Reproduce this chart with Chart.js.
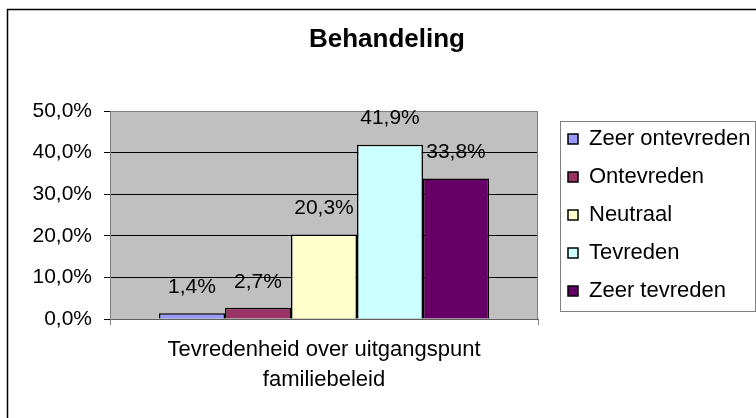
<!DOCTYPE html>
<html>
<head>
<meta charset="utf-8">
<script src="https://cdn.jsdelivr.net/npm/chart.js@4"></script>
<style>
  html, body { margin: 0; padding: 0; background: #fff; }
  #wrap { width: 756px; height: 418px; }
</style>
</head>
<body>
<div id="wrap"><canvas id="chart" width="756" height="418"></canvas></div>
<script>
// Data
const categories = [['Tevredenheid over uitgangspunt', 'familiebeleid']];
const seriesNames = ['Zeer ontevreden', 'Ontevreden', 'Neutraal', 'Tevreden', 'Zeer tevreden'];
const seriesValues = [1.4, 2.7, 20.3, 41.9, 33.8];
const seriesColors = ['#9999ff', '#993366', '#ffffcc', '#ccffff', '#660066'];
const yTicks = [0, 10, 20, 30, 40, 50];

const FONT = "'Liberation Sans', Arial, sans-serif";
Chart.defaults.font.family = FONT;
Chart.defaults.color = '#000';

function pct(v) {
    return v.toFixed(1).replace('.', ',') + '%';
}

// Outer frame, plot background and plot border
const framePlugin = {
    id: 'frame',
    beforeDraw(chart) {
        const { ctx, chartArea: a } = chart;
        ctx.save();
        ctx.fillStyle = '#fff';
        ctx.fillRect(0, 0, chart.width, chart.height);
        ctx.strokeStyle = '#000';
        ctx.lineWidth = 1.5;
        ctx.beginPath();
        ctx.moveTo(7.5, chart.height + 5);
        ctx.lineTo(7.5, 9.5);
        ctx.lineTo(chart.width + 5, 9.5);
        ctx.stroke();
        ctx.fillStyle = '#c0c0c0';
        ctx.fillRect(a.left, a.top, a.right - a.left, a.bottom - a.top);
        ctx.restore();
    },
    beforeDatasetsDraw(chart) {
        const { ctx, chartArea: a } = chart;
        ctx.save();
        ctx.strokeStyle = '#808080';
        ctx.lineWidth = 1;
        ctx.beginPath();
        ctx.moveTo(a.left, a.top + 0.5);
        ctx.lineTo(a.right - 0.5, a.top + 0.5);
        ctx.lineTo(a.right - 0.5, a.bottom);
        ctx.stroke();
        ctx.restore();
    },
    afterDraw(chart) {
        // legend frame
        const lg = chart.legend;
        if (!lg || !lg.legendHitBoxes.length) return;
        const boxes = lg.legendHitBoxes;
        const first = boxes[0], last = boxes[boxes.length - 1];
        const top = first.top + first.height / 2 - 18.5;
        const bottom = last.top + last.height / 2 + 19;
        const left = first.left - 8;
        const right = chart.width - 1;
        const { ctx } = chart;
        ctx.save();
        ctx.strokeStyle = '#808080';
        ctx.lineWidth = 1;
        ctx.strokeRect(Math.round(left) + 0.5, Math.round(top) + 0.5,
            Math.round(right - left), Math.round(bottom - top));
        ctx.restore();
    }
};

// Value labels above the bars
const valueLabels = {
    id: 'valueLabels',
    afterDatasetsDraw(chart) {
        const { ctx } = chart;
        ctx.save();
        ctx.font = '21px ' + FONT;
        ctx.fillStyle = '#000';
        ctx.textAlign = 'center';
        ctx.textBaseline = 'middle';
        chart.data.datasets.forEach((ds, i) => {
            const meta = chart.getDatasetMeta(i);
            meta.data.forEach((bar, j) => {
                ctx.fillText(pct(ds.data[j]), bar.x, bar.y - 26);
            });
        });
        ctx.restore();
    }
};

const datasets = seriesNames.map((name, i) => ({
    label: name,
    data: [seriesValues[i]],
    backgroundColor: seriesColors[i],
    borderColor: '#000',
    borderWidth: 1.5,
    categoryPercentage: 0.771,
    barPercentage: 1
}));

new Chart(document.getElementById('chart').getContext('2d'), {
    type: 'bar',
    data: { labels: categories, datasets },
    options: {
        responsive: false,
        animation: false,
        layout: { padding: { left: 18, right: 0, top: 0, bottom: 0 } },
        plugins: {
            title: {
                display: true,
                text: 'Behandeling',
                color: '#000',
                font: { size: 26, weight: 'bold', lineHeight: 1.2 },
                padding: { top: 24, bottom: 55.8 }
            },
            legend: {
                position: 'right',
                fullSize: false,
                maxWidth: 204,
                labels: {
                    color: '#000',
                    font: { size: 22 },
                    boxWidth: 10,
                    boxHeight: 10,
                    padding: 16
                }
            },
            tooltip: { enabled: false }
        },
        scales: {
            x: {
                offset: true,
                grid: {
                    offset: true,
                    drawOnChartArea: false,
                    tickLength: 6,
                    color: '#808080'
                },
                border: { color: '#606060', width: 1 },
                ticks: {
                    padding: 10,
                    font: { size: 22, lineHeight: 1.364 },
                    maxRotation: 0
                },
                afterFit(scale) { scale.height = 99; }
            },
            y: {
                min: 0,
                max: 50,
                afterBuildTicks(scale) {
                    scale.ticks = yTicks.map(v => ({ value: v }));
                },
                grid: {
                    color: ctx => (ctx.tick && (ctx.tick.value === 50 || ctx.tick.value === 0)) ? '#808080' : '#000',
                    tickColor: '#000',
                    tickLength: 6,
                    lineWidth: 1
                },
                border: { color: '#808080', width: 1 },
                ticks: {
                    padding: 12,
                    font: { size: 21 },
                    callback: v => pct(v)
                },
                afterFit(scale) { scale.width = 92; }
            },
            y2: {
                position: 'right',
                display: true,
                grid: { display: false },
                border: { display: false },
                ticks: { display: false },
                afterFit(scale) { scale.width = 14; }
            }
        }
    },
    plugins: [framePlugin, valueLabels]
});
</script>
</body>
</html>
